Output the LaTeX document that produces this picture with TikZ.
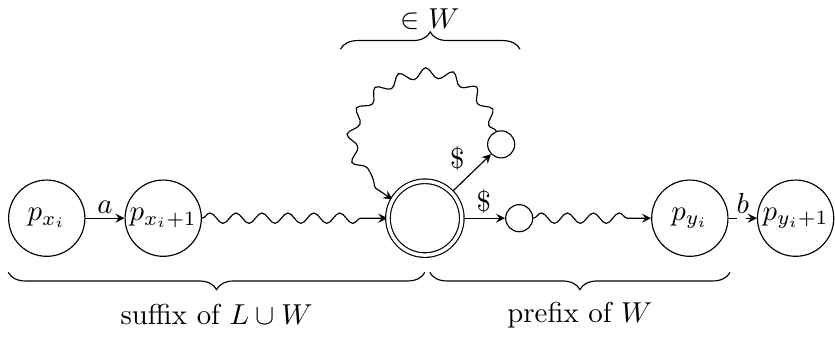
\documentclass[tikz,border=0pt]{standalone}
\usepackage{amsmath,amssymb}
\usetikzlibrary{arrows,backgrounds,positioning,calc}
\usetikzlibrary{decorations.pathmorphing,decorations.pathreplacing}
\pgfdeclarelayer{edgelayer}
\pgfdeclarelayer{nodelayer}
\pgfsetlayers{background,edgelayer,nodelayer,main}
\tikzstyle{st}=[draw=black,shape=circle,inner sep=0pt,minimum size=0.93cm,label distance=0pt,every label/.style={font=\large,inner sep=0pt}]
\tikzstyle{acc}=[st,double,double distance=1.2pt,minimum size=0.9cm]
\tikzstyle{sm}=[draw=black,shape=circle,inner sep=0pt,minimum size=0.33cm]
\tikzstyle{diredge}=[->,>=stealth]
\tikzstyle{wavy}=[diredge,decorate,decoration={snake,amplitude=1.8pt,segment length=9pt,post length=2mm}]
\tikzstyle{lbl}=[inner sep=1.5pt,font=\normalsize]
\tikzstyle{brc}=[decorate,decoration={brace,amplitude=6pt}]

\begin{document}
\begin{tikzpicture}
	\useasboundingbox (0,-1.46) rectangle (10.18,2.66);
	\begin{pgfonlayer}{nodelayer}
		\node [style=st, label={center:$p_{x_i}$}] (px) at (0.57, 0) {};
		\node [style=st, label={center:$p_{x_i+1}$}] (px1) at (1.99, 0) {};
		\node [style=acc] (q) at (5.18, 0) {};
		\node [style=sm] (up) at (6.11, 0.90) {};
		\node [style=sm] (rt) at (6.33, 0) {};
		\node [style=st, label={center:$p_{y_i}$}] (py) at (8.41, 0) {};
		\node [style=st, label={center:$p_{y_i+1}$}] (py1) at (9.70, 0) {};
		\coordinate (tl) at (4.15, 2.06);
		\coordinate (tr) at (6.34, 2.06);
		\coordinate (bl) at (0.10, -0.66);
		\coordinate (bm) at (5.18, -0.66);
		\coordinate (br) at (8.90, -0.66);
	\end{pgfonlayer}
	\begin{pgfonlayer}{edgelayer}
		\draw [style=diredge] (px) to node[above,lbl] {$a$} (px1);
		\draw [style=wavy] (px1) to (q);
		\draw [style=diredge] (q) to node[above left,lbl,pos=0.45] {\$} (up);
		\draw [style=diredge] (q) to node[above,lbl] {\$} (rt);
		\draw [style=wavy] (up) to[out=110, in=150, looseness=2.7] (q);
		\draw [style=wavy] (rt) to (py);
		\draw [style=diredge, dashed] (py) to node[above,lbl] {$b$} (py1);
		\draw [style=brc] (tl) to node[midway,yshift=0.37cm] {$\in W$} (tr);
		\draw [style=brc, decoration={mirror}] (bl) to node[midway,yshift=-0.52cm] {suffix of $L\cup W$} (bm);
		\draw [style=brc, decoration={mirror}] ($(bm)+(0.06,0)$) to node[midway,yshift=-0.52cm] {prefix of $W$} (br);
	\end{pgfonlayer}
\end{tikzpicture}
\end{document}
